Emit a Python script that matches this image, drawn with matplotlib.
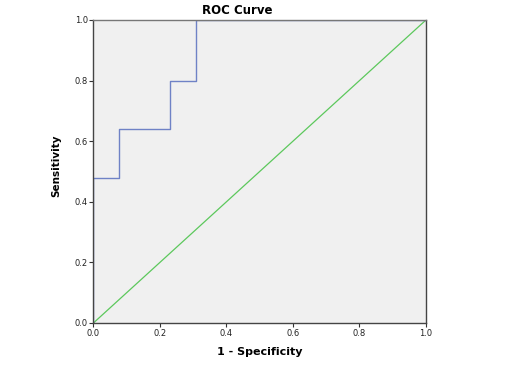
import matplotlib.pyplot as plt

# ROC curve points (1 - specificity, sensitivity)
fpr = [0.0, 0.0, 1/13, 1/13, 3/13, 3/13, 4/13, 4/13, 1.0]
tpr = [0.0, 0.48, 0.48, 0.64, 0.64, 0.80, 0.80, 1.0, 1.0]
ref_line = [0.0, 1.0]
ticks = [0.0, 0.2, 0.4, 0.6, 0.8, 1.0]
tick_labels = ["0.0", "0.2", "0.4", "0.6", "0.8", "1.0"]

fig = plt.figure(figsize=(5.05, 3.68), dpi=100)
ax = fig.add_axes([0.185, 0.1223, 0.6585, 0.8234])
ax.set_facecolor("#f0f0f0")

# diagonal reference line
ax.plot(ref_line, ref_line, color="#5cc85c", linewidth=0.9)
# ROC step curve
ax.plot(fpr, tpr, color="#6f82c6", linewidth=1.0)

ax.set_xlim(0, 1)
ax.set_ylim(0, 1)
ax.set_xticks(ticks)
ax.set_xticklabels(tick_labels)
ax.set_yticks(ticks)
ax.set_yticklabels(tick_labels)
ax.tick_params(axis="both", labelsize=6, length=3, width=0.8, color="#333333",
               labelcolor="#222222", pad=1)

for s in ax.spines.values():
    s.set_color("#444444")
    s.set_linewidth(1.0)
ax.spines["top"].set_color("#777777")

fig.text(237 / 505, 1 - 11 / 368, "ROC Curve", ha="center", va="center",
         fontsize=8.5, fontweight="bold")
ax.set_xlabel("1 - Specificity", fontsize=8, fontweight="bold", labelpad=7)
ax.set_ylabel("Sensitivity", fontsize=7.5, fontweight="bold")
ax.yaxis.set_label_coords(-0.098, 0.52)

fig.savefig("out.png", dpi=100)
